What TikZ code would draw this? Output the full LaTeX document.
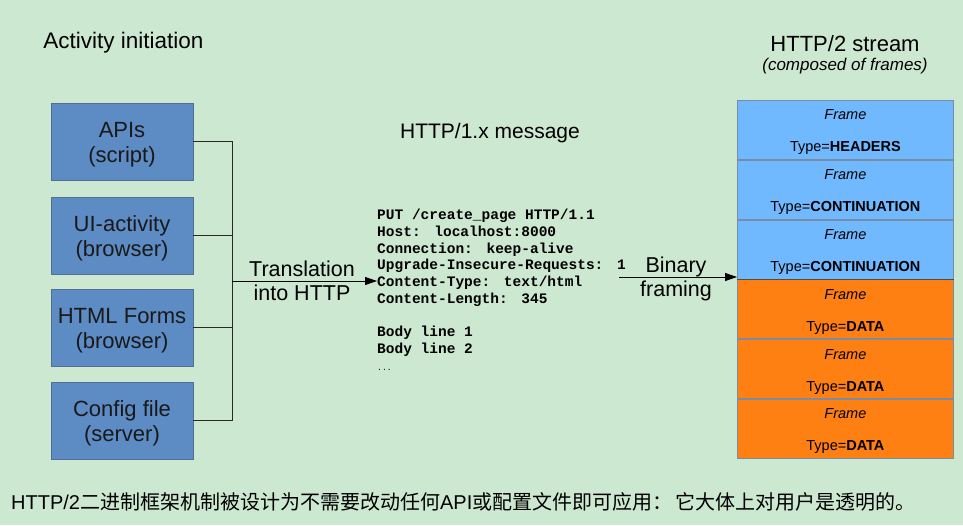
\documentclass[tikz,border=0pt]{standalone}
\usepackage{fontspec}
\setmainfont{Liberation Sans}
\setmonofont{Liberation Mono}
\newfontfamily\cjk{Noto Sans CJK SC}
\usetikzlibrary{arrows.meta}
\definecolor{bgc}{RGB}{205,232,208}
\definecolor{boxblue}{RGB}{93,139,196}
\definecolor{boxedge}{RGB}{80,110,150}
\definecolor{frblue}{RGB}{113,185,255}
\definecolor{frorange}{RGB}{255,128,18}
\definecolor{fredge}{RGB}{120,140,165}
\definecolor{linec}{RGB}{40,40,40}
\newcommand{\csp}{\hspace{5pt}}
\newcommand{\frtxt}[1]{\rule{0pt}{15pt}\textit{Frame}\\[16pt]Type=\textbf{#1}}
\tikzset{
  srcbox/.style={draw=boxedge, fill=boxblue, line width=0.8pt, minimum width=142pt, minimum height=77pt, inner sep=0pt},
  boxtext/.style={inner sep=0pt, align=center, font=\fontsize{22}{25}\selectfont, text=black!90},
  frbox/.style={draw=fredge, line width=0.8pt, minimum width=216pt, minimum height=59pt, inner sep=0pt, align=center, font=\fontsize{14.5}{16}\selectfont},
  conn/.style={draw=linec, line width=0.7pt},
  arr/.style={draw=black, line width=0.8pt, -{Triangle[length=12pt,width=8pt]}},
  lbl/.style={inner sep=0pt, align=center, font=\fontsize{21.5}{25}\selectfont},
}
\begin{document}
\begin{tikzpicture}[x=1pt,y=-1pt]
\fill[bgc] (0,0) rectangle (963,525);
\useasboundingbox (0,0) rectangle (963,525);

\node[lbl, font=\fontsize{22.5}{25}\selectfont] (title1) at (123.5,43) {Activity initiation};

\node[srcbox] (apis) at (122,141.5) {};
\node[srcbox] (ui) at (122,235.5) {};
\node[srcbox] (html) at (122,327.5) {};
\node[srcbox] (cfg) at (122,420.5) {};
\node[boxtext] (apist) at ([yshift=-3pt]apis.center) {APIs\\(script)};
\node[boxtext] (uit) at ([yshift=-3pt]ui.center) {UI-activity\\(browser)};
\node[boxtext] (htmlt) at ([yshift=-3pt]html.center) {HTML Forms\\(browser)};
\node[boxtext] (cfgt) at ([yshift=-3pt]cfg.center) {Config file\\(server)};

\coordinate (bus) at (232,281);
\draw[conn] (apis.east) -| (bus);
\draw[conn] (ui.east) -| (bus);
\draw[conn] (html.east) -| (bus);
\draw[conn] (cfg.east) -| (bus);

\node[lbl, font=\fontsize{21}{25}\selectfont] (msgtitle) at (490,133) {HTTP/1.x message};

\node[anchor=north west, inner sep=0pt, align=left, font=\fontsize{14.5}{16.7}\selectfont\ttfamily\bfseries] (code) at (377,209) {%
PUT /create\_page HTTP/1.1\\
Host:\csp{} localhost:8000\\
Connection:\csp{} keep-alive\\
Upgrade-Insecure-Requests:\csp{} 1\\
Content-Type:\csp{} text/html\\
Content-Length:\csp{} 345\\
\mbox{}\\
Body line 1\\
Body line 2\\
{\fontsize{8}{16.7}\selectfont\mdseries ...}};

\draw[arr] (bus) -- (bus -| code.west);
\node[lbl] (transl) at (302,283) {\strut Translation\\[-1pt]\strut into HTTP};

\node[lbl, font=\fontsize{22}{25}\selectfont] (t2) at (845,44) {HTTP/2 stream};
\node[inner sep=0pt, font=\fontsize{17}{18}\selectfont\itshape] (t2sub) at (845,66) {(composed of frames)};

\node[frbox, fill=frblue, anchor=north west] (f1) at (737,100) {\frtxt{HEADERS}};
\node[frbox, fill=frblue, anchor=north] (f2) at (f1.south) {\frtxt{CONTINUATION}};
\node[frbox, fill=frblue, anchor=north] (f3) at (f2.south) {\frtxt{CONTINUATION}};
\node[frbox, fill=frorange, anchor=north] (f4) at (f3.south) {\frtxt{DATA}};
\node[frbox, fill=frorange, anchor=north] (f5) at (f4.south) {\frtxt{DATA}};
\node[frbox, fill=frorange, anchor=north] (f6) at (f5.south) {\frtxt{DATA}};
\draw[draw=black!70, line width=1.2pt] (f3.south west) -- (f3.south east);

\coordinate (bfstart) at (619,277);
\draw[arr] (bfstart) -- (bfstart -| f3.west);
\node[lbl] (binary) at (676,279) {\strut Binary\\[-1pt]\strut framing};

\node[anchor=west, inner sep=0pt, font=\fontsize{20}{22}\selectfont] (note) at (11,502) {HTTP/2{\cjk 二进制框架机制被设计为不需要改动任何}API{\cjk 或配置文件即可应用：}\,{\cjk 它大体上对用户是透明的。}};
\end{tikzpicture}
\end{document}
